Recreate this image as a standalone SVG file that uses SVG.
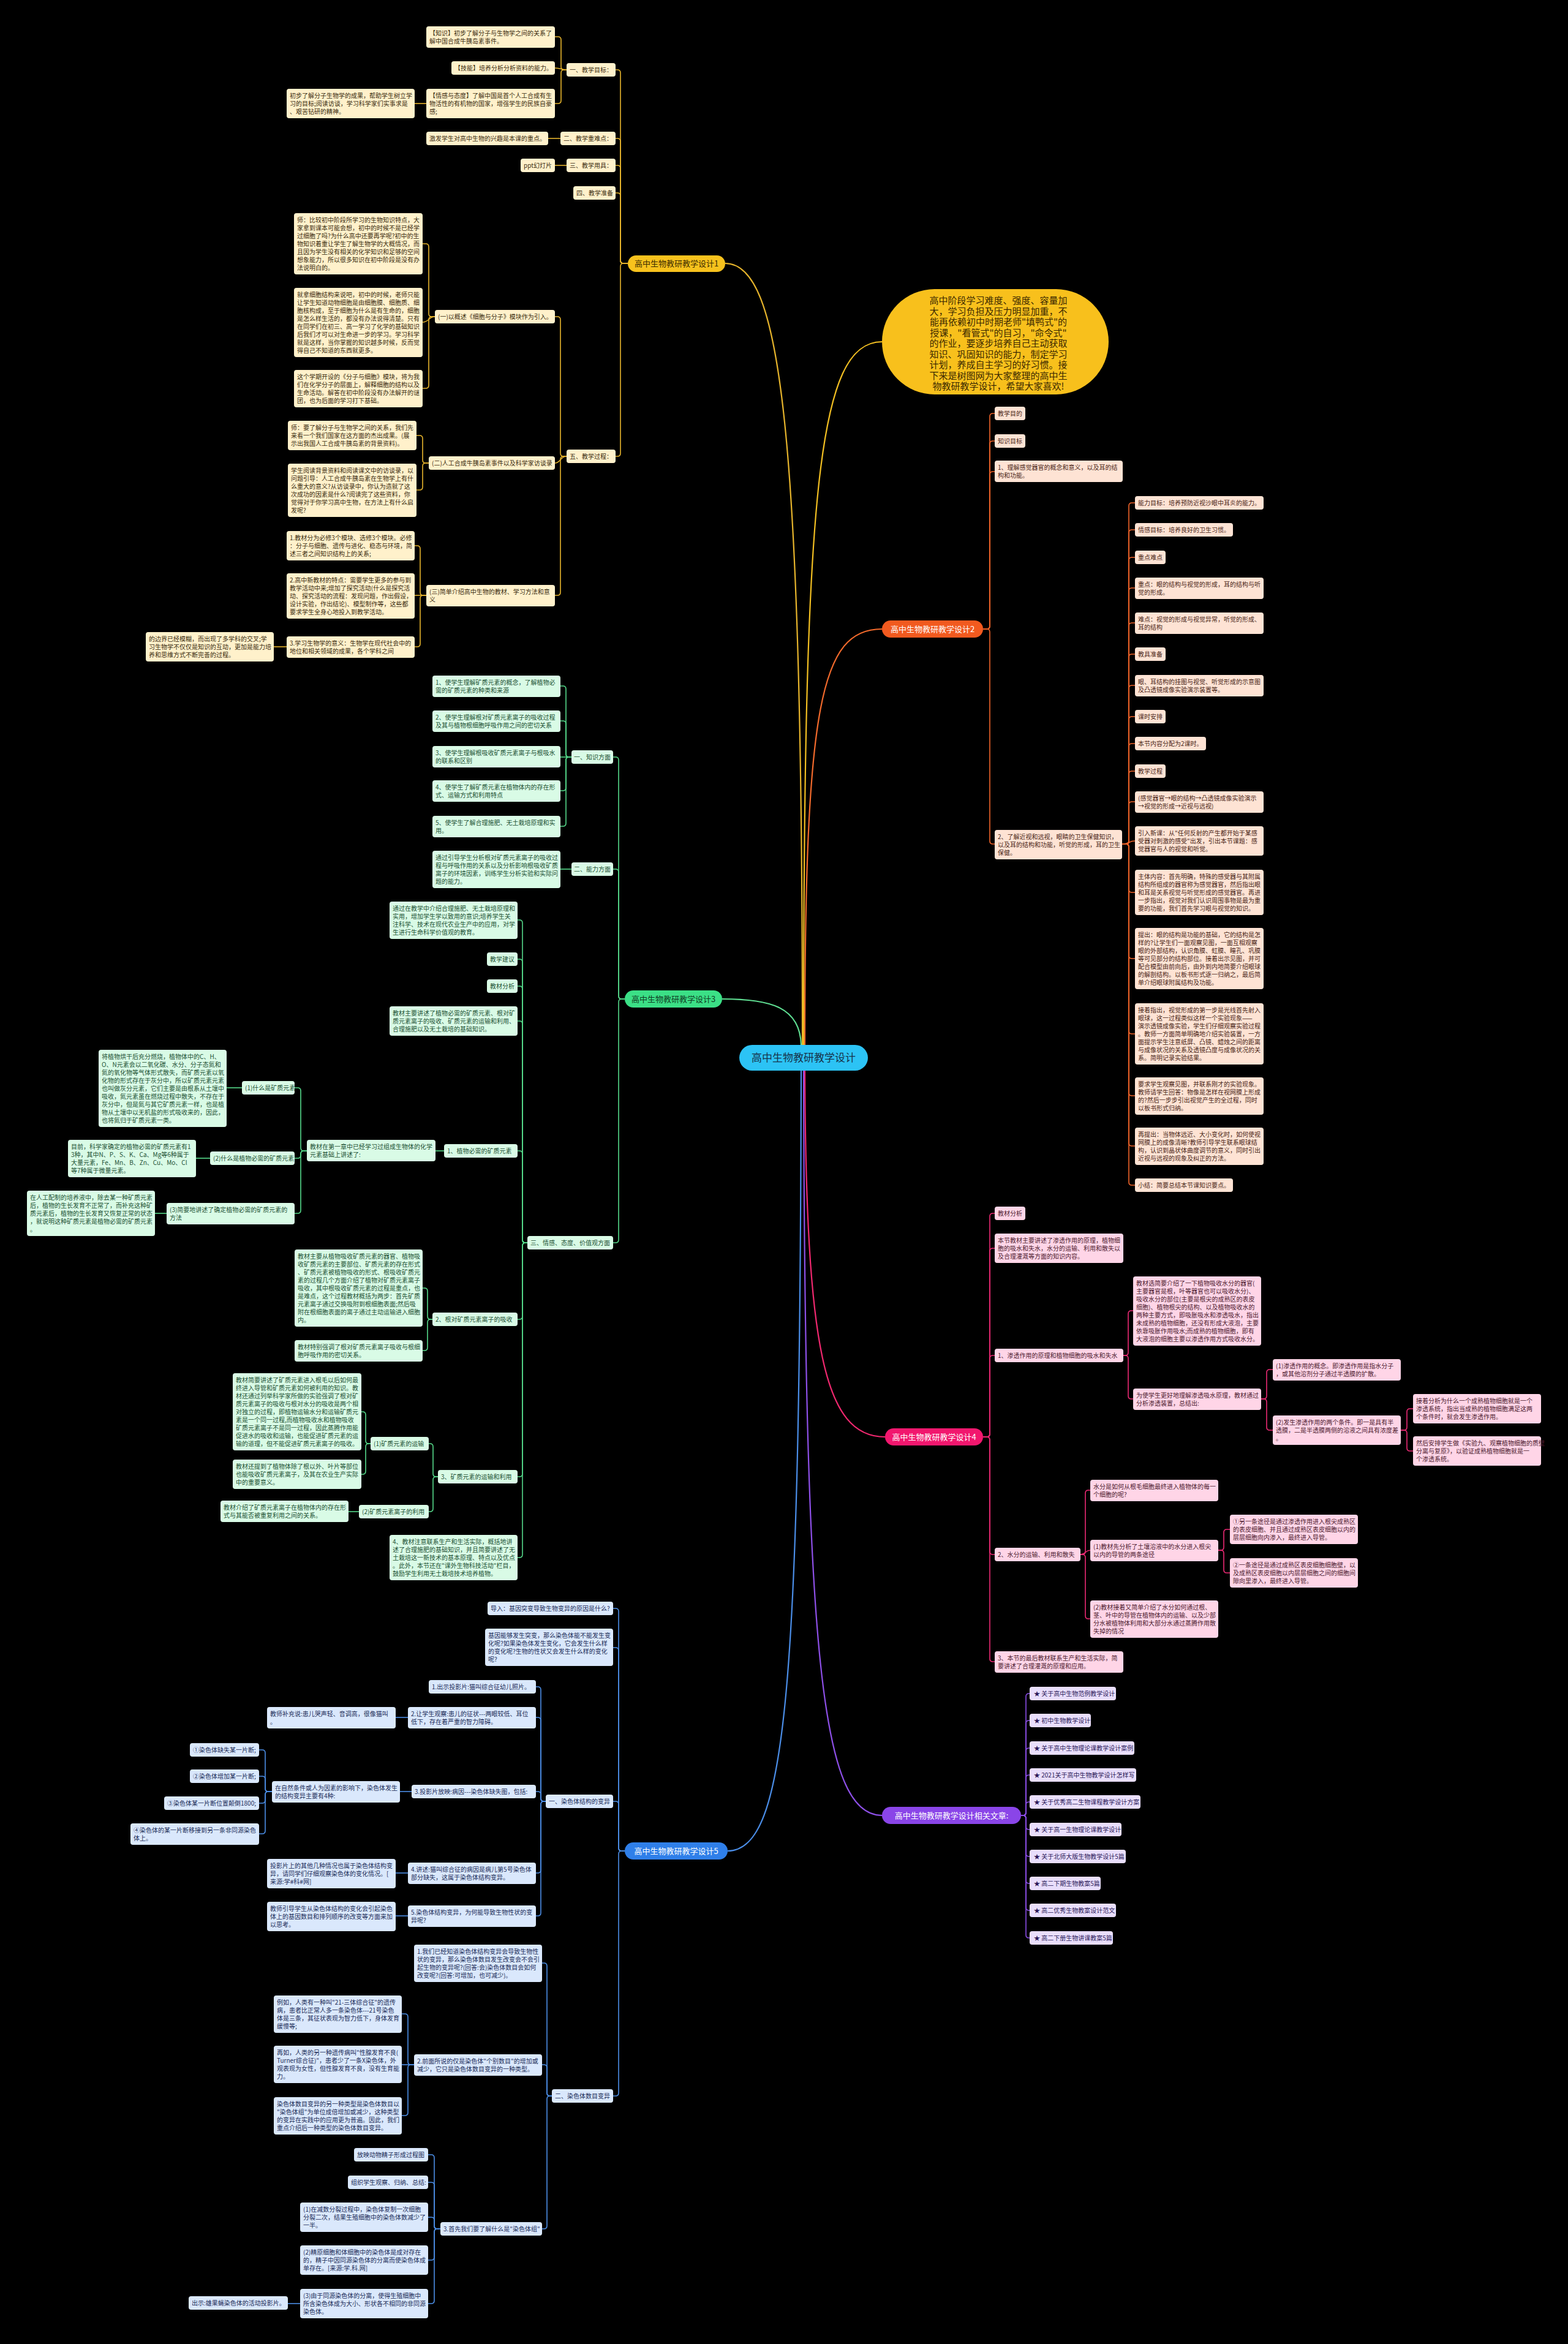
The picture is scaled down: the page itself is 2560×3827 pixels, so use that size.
<svg xmlns="http://www.w3.org/2000/svg" width="2560" height="3827" viewBox="0 0 2560 3827">
<style>
text{font-family:"Noto Sans CJK SC","Noto Sans",sans-serif;font-size:10px}
.c1 rect{fill:#FFF1CB}.c1 text{fill:#3a2c0e}
.c2 rect{fill:#FEE3D4}.c2 text{fill:#4a2616}
.c3 rect{fill:#D9FBE6}.c3 text{fill:#1c5034}
.c4 rect{fill:#FFD5E7}.c4 text{fill:#4d1a30}
.c5 rect{fill:#DAE8FC}.c5 text{fill:#1a2c58}
.c6 rect{fill:#E9DEFC}.c6 text{fill:#2c1858}
.pill text{font-size:13px;text-anchor:middle}
#connectors path{fill:none;stroke-width:1.6}
#connectors .m path{stroke-width:2.2}
.k1 path{stroke:#E6B42C}.k2 path{stroke:#F0642A}.k3 path{stroke:#55D98A}.k4 path{stroke:#EC2A74}.k5 path{stroke:#4C8EE6}.k6 path{stroke:#8B4EE6}
</style>
<rect width="2560" height="3827" fill="#000"/>
<g id="connectors">
<g class="m">
<path stroke="#E6B42C" d="M1310 1706 C1310 700 1275 430 1184 430"/>
<path stroke="#F2BF22" d="M1312 1706 C1312 800 1335 558 1440 558"/>
<path stroke="#F26A2C" d="M1314 1706 C1314 1150 1340 1027 1440 1027"/>
<path stroke="#5FDE92" d="M1308 1706 C1306 1645 1260 1631 1179 1631"/>
<path stroke="#F0286F" d="M1314 1748 C1316 2200 1345 2346 1445 2346"/>
<path stroke="#8E50E8" d="M1312 1748 C1314 2700 1340 2964 1440 2964"/>
<path stroke="#4B8EE8" d="M1308 1748 C1306 2750 1285 3022 1188 3022"/>
</g>
<g class="k1">
<path d="M1025 430 H1018 Q1013 430 1013 425 V119 Q1013 114 1008 114 H1005"/>
<path d="M1025 430 H1018 Q1013 430 1013 425 V231 Q1013 226 1008 226 H1005"/>
<path d="M1025 430 H1018 Q1013 430 1013 425 V275 Q1013 270 1008 270 H1005"/>
<path d="M1025 430 H1018 Q1013 430 1013 425 V320 Q1013 315 1008 315 H1005"/>
<path d="M1025 430 H1018 Q1013 430 1013 435 V740 Q1013 745 1008 745 H1005"/>
<path d="M925 114 H921 Q916 114 916 109 V65 Q916 60 911 60 H906"/>
<path d="M925 114 C916 114 916 111 906 111"/>
<path d="M925 114 H921 Q916 114 916 119 V164 Q916 169 911 169 H906"/>
<path d="M696 169 H677"/>
<path d="M915 226 H895"/>
<path d="M925 270 H906"/>
<path d="M925 745 H920 Q915 745 915 740 V522 Q915 517 910 517 H906"/>
<path d="M925 745 C915 745 915 756 906 756"/>
<path d="M925 745 H920 Q915 745 915 750 V967 Q915 972 910 972 H906"/>
<path d="M710 517 H705 Q700 517 700 512 V403 Q700 398 695 398 H690"/>
<path d="M710 517 C700 517 700 526 690 526"/>
<path d="M710 517 H705 Q700 517 700 522 V629 Q700 634 695 634 H690"/>
<path d="M700 756 H695 Q690 756 690 751 V716 Q690 711 685 711 H680"/>
<path d="M700 756 H695 Q690 756 690 761 V795 Q690 800 685 800 H680"/>
<path d="M696 972 H691 Q686 972 686 967 V896 Q686 891 681 891 H677"/>
<path d="M696 972 H677"/>
<path d="M696 972 H691 Q686 972 686 977 V1051 Q686 1056 681 1056 H677"/>
<path d="M468 1056 H447"/>
</g>
<g class="k2">
<path d="M1605 1027 H1611 Q1616 1027 1616 1022 V680 Q1616 675 1621 675 H1624"/>
<path d="M1605 1027 H1611 Q1616 1027 1616 1022 V725 Q1616 720 1621 720 H1624"/>
<path d="M1605 1027 H1611 Q1616 1027 1616 1022 V775 Q1616 770 1621 770 H1624"/>
<path d="M1605 1027 H1611 Q1616 1027 1616 1032 V1373 Q1616 1378 1621 1378 H1624"/>
<path d="M1832 1378 H1838 Q1843 1378 1843 1373 V826 Q1843 821 1848 821 H1853"/>
<path d="M1832 1378 H1838 Q1843 1378 1843 1373 V870 Q1843 865 1848 865 H1853"/>
<path d="M1832 1378 H1838 Q1843 1378 1843 1373 V915 Q1843 910 1848 910 H1853"/>
<path d="M1832 1378 H1838 Q1843 1378 1843 1373 V965 Q1843 960 1848 960 H1853"/>
<path d="M1832 1378 H1838 Q1843 1378 1843 1373 V1022 Q1843 1017 1848 1017 H1853"/>
<path d="M1832 1378 H1838 Q1843 1378 1843 1373 V1073 Q1843 1068 1848 1068 H1853"/>
<path d="M1832 1378 H1838 Q1843 1378 1843 1373 V1124 Q1843 1119 1848 1119 H1853"/>
<path d="M1832 1378 H1838 Q1843 1378 1843 1373 V1175 Q1843 1170 1848 1170 H1853"/>
<path d="M1832 1378 H1838 Q1843 1378 1843 1373 V1219 Q1843 1214 1848 1214 H1853"/>
<path d="M1832 1378 H1838 Q1843 1378 1843 1373 V1264 Q1843 1259 1848 1259 H1853"/>
<path d="M1832 1378 H1838 Q1843 1378 1843 1373 V1314 Q1843 1309 1848 1309 H1853"/>
<path d="M1832 1378 C1843 1378 1843 1373 1853 1373"/>
<path d="M1832 1378 H1838 Q1843 1378 1843 1383 V1452 Q1843 1457 1848 1457 H1853"/>
<path d="M1832 1378 H1838 Q1843 1378 1843 1383 V1560 Q1843 1565 1848 1565 H1853"/>
<path d="M1832 1378 H1838 Q1843 1378 1843 1383 V1683 Q1843 1688 1848 1688 H1853"/>
<path d="M1832 1378 H1838 Q1843 1378 1843 1383 V1784 Q1843 1789 1848 1789 H1853"/>
<path d="M1832 1378 H1838 Q1843 1378 1843 1383 V1866 Q1843 1871 1848 1871 H1853"/>
<path d="M1832 1378 H1838 Q1843 1378 1843 1383 V1930 Q1843 1935 1848 1935 H1853"/>
</g>
<g class="k3">
<path d="M1020 1631 H1015 Q1010 1631 1010 1626 V1241 Q1010 1236 1005 1236 H1001"/>
<path d="M1020 1631 H1015 Q1010 1631 1010 1626 V1424 Q1010 1419 1005 1419 H1001"/>
<path d="M1020 1631 H1015 Q1010 1631 1010 1636 V2024 Q1010 2029 1005 2029 H1001"/>
<path d="M933 1236 H929 Q924 1236 924 1231 V1125 Q924 1120 919 1120 H915"/>
<path d="M933 1236 H929 Q924 1236 924 1231 V1182 Q924 1177 919 1177 H915"/>
<path d="M933 1236 H915"/>
<path d="M933 1236 H929 Q924 1236 924 1241 V1286 Q924 1291 919 1291 H915"/>
<path d="M933 1236 H929 Q924 1236 924 1241 V1344 Q924 1349 919 1349 H915"/>
<path d="M933 1419 H915"/>
<path d="M861 2029 H858 Q853 2029 853 2024 V1507 Q853 1502 848 1502 H845"/>
<path d="M861 2029 H858 Q853 2029 853 2024 V1571 Q853 1566 848 1566 H845"/>
<path d="M861 2029 H858 Q853 2029 853 2024 V1615 Q853 1610 848 1610 H845"/>
<path d="M861 2029 H858 Q853 2029 853 2024 V1672 Q853 1667 848 1667 H845"/>
<path d="M861 2029 H858 Q853 2029 853 2024 V1884 Q853 1879 848 1879 H845"/>
<path d="M861 2029 H858 Q853 2029 853 2034 V2149 Q853 2154 848 2154 H845"/>
<path d="M861 2029 H858 Q853 2029 853 2034 V2406 Q853 2411 848 2411 H845"/>
<path d="M861 2029 H858 Q853 2029 853 2034 V2538 Q853 2543 848 2543 H845"/>
<path d="M725 1879 H711"/>
<path d="M501 1879 H496 Q491 1879 491 1874 V1781 Q491 1776 486 1776 H481"/>
<path d="M501 1879 H496 Q491 1879 491 1884 V1886 Q491 1891 486 1891 H481"/>
<path d="M501 1879 H496 Q491 1879 491 1884 V1976 Q491 1981 486 1981 H481"/>
<path d="M395 1776 H370"/>
<path d="M343 1891 H320"/>
<path d="M272 1981 H253"/>
<path d="M706 2154 H703 Q698 2154 698 2149 V2108 Q698 2103 693 2103 H690"/>
<path d="M706 2154 H703 Q698 2154 698 2159 V2200 Q698 2205 693 2205 H690"/>
<path d="M715 2411 H712 Q707 2411 707 2406 V2362 Q707 2357 702 2357 H700"/>
<path d="M715 2411 H712 Q707 2411 707 2416 V2463 Q707 2468 702 2468 H700"/>
<path d="M605 2357 H602 Q597 2357 597 2352 V2310 Q597 2305 592 2305 H590"/>
<path d="M605 2357 H602 Q597 2357 597 2362 V2402 Q597 2407 592 2407 H590"/>
<path d="M586 2468 H569"/>
</g>
<g class="k4">
<path d="M1605 2346 H1611 Q1616 2346 1616 2341 V1986 Q1616 1981 1621 1981 H1624"/>
<path d="M1605 2346 H1611 Q1616 2346 1616 2341 V2043 Q1616 2038 1621 2038 H1624"/>
<path d="M1605 2346 H1611 Q1616 2346 1616 2341 V2218 Q1616 2213 1621 2213 H1624"/>
<path d="M1605 2346 H1611 Q1616 2346 1616 2351 V2533 Q1616 2538 1621 2538 H1624"/>
<path d="M1605 2346 H1611 Q1616 2346 1616 2351 V2708 Q1616 2713 1621 2713 H1624"/>
<path d="M1834 2213 H1837 Q1842 2213 1842 2208 V2145 Q1842 2140 1847 2140 H1850"/>
<path d="M1834 2213 H1837 Q1842 2213 1842 2218 V2279 Q1842 2284 1847 2284 H1850"/>
<path d="M2059 2284 H2063 Q2068 2284 2068 2279 V2241 Q2068 2236 2073 2236 H2078"/>
<path d="M2059 2284 H2063 Q2068 2284 2068 2289 V2330 Q2068 2335 2073 2335 H2078"/>
<path d="M2287 2335 H2292 Q2297 2335 2297 2330 V2305 Q2297 2300 2302 2300 H2307"/>
<path d="M2287 2335 H2292 Q2297 2335 2297 2340 V2364 Q2297 2369 2302 2369 H2307"/>
<path d="M1764 2538 H1767 Q1772 2538 1772 2533 V2438 Q1772 2433 1777 2433 H1780"/>
<path d="M1764 2538 C1772 2538 1772 2531 1780 2531"/>
<path d="M1764 2538 H1767 Q1772 2538 1772 2543 V2638 Q1772 2643 1777 2643 H1780"/>
<path d="M1989 2531 H1993 Q1998 2531 1998 2526 V2502 Q1998 2497 2003 2497 H2008"/>
<path d="M1989 2531 H1993 Q1998 2531 1998 2536 V2563 Q1998 2568 2003 2568 H2008"/>
</g>
<g class="k6">
<path d="M1667 2964 H1670 Q1675 2964 1675 2959 V2770 Q1675 2765 1680 2765 H1681"/>
<path d="M1667 2964 H1670 Q1675 2964 1675 2959 V2814 Q1675 2809 1680 2809 H1681"/>
<path d="M1667 2964 H1670 Q1675 2964 1675 2959 V2859 Q1675 2854 1680 2854 H1681"/>
<path d="M1667 2964 H1670 Q1675 2964 1675 2959 V2903 Q1675 2898 1680 2898 H1681"/>
<path d="M1667 2964 H1670 Q1675 2964 1675 2959 V2947 Q1675 2942 1680 2942 H1681"/>
<path d="M1667 2964 H1670 Q1675 2964 1675 2969 V2982 Q1675 2987 1680 2987 H1681"/>
<path d="M1667 2964 H1670 Q1675 2964 1675 2969 V3026 Q1675 3031 1680 3031 H1681"/>
<path d="M1667 2964 H1670 Q1675 2964 1675 2969 V3070 Q1675 3075 1680 3075 H1681"/>
<path d="M1667 2964 H1670 Q1675 2964 1675 2969 V3114 Q1675 3119 1680 3119 H1681"/>
<path d="M1667 2964 H1670 Q1675 2964 1675 2969 V3159 Q1675 3164 1680 3164 H1681"/>
</g>
<g class="k5">
<path d="M1020 3022 H1015 Q1010 3022 1010 3017 V2631 Q1010 2626 1005 2626 H1001"/>
<path d="M1020 3022 H1015 Q1010 3022 1010 3017 V2695 Q1010 2690 1005 2690 H1001"/>
<path d="M1020 3022 H1015 Q1010 3022 1010 3017 V2946 Q1010 2941 1005 2941 H1001"/>
<path d="M1020 3022 H1015 Q1010 3022 1010 3027 V3417 Q1010 3422 1005 3422 H1001"/>
<path d="M891 2941 H888 Q883 2941 883 2936 V2759 Q883 2754 878 2754 H875"/>
<path d="M891 2941 H888 Q883 2941 883 2936 V2809 Q883 2804 878 2804 H875"/>
<path d="M891 2941 H888 Q883 2941 883 2936 V2930 Q883 2925 878 2925 H875"/>
<path d="M891 2941 H888 Q883 2941 883 2946 V3053 Q883 3058 878 3058 H875"/>
<path d="M891 2941 H888 Q883 2941 883 2946 V3123 Q883 3128 878 3128 H875"/>
<path d="M666 2804 H646"/>
<path d="M672 2925 H653"/>
<path d="M444 2925 H438 Q433 2925 433 2920 V2862 Q433 2857 428 2857 H423"/>
<path d="M444 2925 H438 Q433 2925 433 2920 V2905 Q433 2900 428 2900 H423"/>
<path d="M444 2925 H438 Q433 2925 433 2930 V2939 Q433 2944 428 2944 H423"/>
<path d="M444 2925 H438 Q433 2925 433 2930 V2989 Q433 2994 428 2994 H423"/>
<path d="M666 3058 H646"/>
<path d="M666 3128 H646"/>
<path d="M901 3422 H898 Q893 3422 893 3417 V3210 Q893 3205 888 3205 H885"/>
<path d="M901 3422 H898 Q893 3422 893 3417 V3376 Q893 3371 888 3371 H885"/>
<path d="M901 3422 H898 Q893 3422 893 3427 V3634 Q893 3639 888 3639 H885"/>
<path d="M676 3371 H671 Q666 3371 666 3366 V3293 Q666 3288 661 3288 H656"/>
<path d="M676 3371 H656"/>
<path d="M676 3371 H671 Q666 3371 666 3376 V3449 Q666 3454 661 3454 H656"/>
<path d="M719 3639 H714 Q709 3639 709 3634 V3523 Q709 3518 704 3518 H699"/>
<path d="M719 3639 H714 Q709 3639 709 3634 V3568 Q709 3563 704 3563 H699"/>
<path d="M719 3639 H714 Q709 3639 709 3634 V3625 Q709 3620 704 3620 H699"/>
<path d="M719 3639 H714 Q709 3639 709 3644 V3685 Q709 3690 704 3690 H699"/>
<path d="M719 3639 H714 Q709 3639 709 3644 V3756 Q709 3761 704 3761 H699"/>
<path d="M490 3761 H470"/>
</g>
</g>

<g id="root" class="pill"><rect x="1207" y="1706" width="210" height="42" rx="21" fill="#2CC3F5"/><text x="1312" y="1733" style="font-size:17px" fill="#17324a">高中生物教研教学设计</text></g>

<g id="intro"><rect x="1440" y="472" width="370" height="172" rx="86" fill="#F8C01C"/>
<text x="1630" y="496" text-anchor="middle" fill="#3a2800" style="font-size:15px">高中阶段学习难度、强度、容量加<tspan x="1630" dy="17.5">大，学习负担及压力明显加重，不</tspan><tspan x="1630" dy="17.5">能再依赖初中时期老师"填鸭式"的</tspan><tspan x="1630" dy="17.5">授课，"看管式"的自习，"命令式"</tspan><tspan x="1630" dy="17.5">的作业，要逐步培养自己主动获取</tspan><tspan x="1630" dy="17.5">知识、巩固知识的能力，制定学习</tspan><tspan x="1630" dy="17.5">计划，养成自主学习的好习惯。接</tspan><tspan x="1630" dy="17.5">下来是树图网为大家整理的高中生</tspan><tspan x="1630" dy="17.5">物教研教学设计，希望大家喜欢!</tspan></text></g>

<!-- Branch 1 -->
<g id="b1" class="pill"><rect x="1025" y="417" width="159" height="27" rx="13.5" fill="#F7C21D"/><text x="1104.5" y="435" fill="#3a2a00">高中生物教研教学设计1</text></g>
<g id="b1n1" class="c1"><rect x="925" y="103" width="80" height="22" rx="4"/><text x="930" y="118">一、教学目标：</text></g>
<g id="b1n2" class="c1"><rect x="696" y="43" width="210" height="35" rx="4"/><text x="701" y="58">【知识】初步了解分子与生物学之间的关系了<tspan x="701" dy="13">解中国合成牛胰岛素事件。</tspan></text></g>
<g id="b1n3" class="c1"><rect x="737" y="100" width="169" height="22" rx="4"/><text x="742" y="115">【技能】培养分析分析资料的能力。</text></g>
<g id="b1n4" class="c1"><rect x="696" y="145" width="210" height="48" rx="4"/><text x="701" y="160">【情感与态度】了解中国是首个人工合成有生<tspan x="701" dy="13">物活性的有机物的国家，增强学生的民族自豪</tspan><tspan x="701" dy="13">感;</tspan></text></g>
<g id="b1n5" class="c1"><rect x="468" y="145" width="209" height="48" rx="4"/><text x="473" y="160">初步了解分子生物学的成果，帮助学生树立学<tspan x="473" dy="13">习的目标;阅读访谈，学习科学家们实事求是</tspan><tspan x="473" dy="13">、艰苦钻研的精神。</tspan></text></g>
<g id="b1n6" class="c1"><rect x="915" y="215" width="90" height="22" rx="4"/><text x="920" y="230">二、教学重难点：</text></g>
<g id="b1n7" class="c1"><rect x="696" y="215" width="199" height="22" rx="4"/><text x="701" y="230">激发学生对高中生物的兴趣是本课的重点。</text></g>
<g id="b1n8" class="c1"><rect x="925" y="259" width="80" height="22" rx="4"/><text x="930" y="274">三、教学用具：</text></g>
<g id="b1n9" class="c1"><rect x="850" y="259" width="56" height="22" rx="4"/><text x="855" y="274">ppt幻灯片</text></g>
<g id="b1n10" class="c1"><rect x="936" y="304" width="69" height="22" rx="4"/><text x="941" y="319">四、教学准备</text></g>
<g id="b1n11" class="c1"><rect x="925" y="734" width="80" height="22" rx="4"/><text x="930" y="749">五、教学过程：</text></g>
<g id="b1n12" class="c1"><rect x="710" y="506" width="196" height="22" rx="4"/><text x="715" y="521">(一)以概述《细胞与分子》模块作为引入。</text></g>
<g id="b1n13" class="c1"><rect x="480" y="348" width="210" height="100" rx="4"/><text x="485" y="363">师：比较初中阶段所学习的生物知识特点，大<tspan x="485" dy="13">家拿到课本可能会想，初中的时候不是已经学</tspan><tspan x="485" dy="13">过细胞了吗?为什么高中还要再学呢?初中的生</tspan><tspan x="485" dy="13">物知识着重让学生了解生物学的大概情况，而</tspan><tspan x="485" dy="13">且因为学生没有相关的化学知识和足够的空间</tspan><tspan x="485" dy="13">想象能力，所以很多知识在初中阶段是没有办</tspan><tspan x="485" dy="13">法说明白的。</tspan></text></g>
<g id="b1n14" class="c1"><rect x="480" y="470" width="210" height="113" rx="4"/><text x="485" y="485">就拿细胞结构来说吧，初中的时候，老师只能<tspan x="485" dy="13">让学生知道动物细胞是由细胞膜、细胞质、细</tspan><tspan x="485" dy="13">胞核构成，至于细胞为什么是有生命的，细胞</tspan><tspan x="485" dy="13">是怎么样生活的，都没有办法说得清楚。只有</tspan><tspan x="485" dy="13">在同学们在初三、高一学习了化学的基础知识</tspan><tspan x="485" dy="13">后我们才可以对生命进一步的学习。学习科学</tspan><tspan x="485" dy="13">就是这样，当你掌握的知识越多时候，反而觉</tspan><tspan x="485" dy="13">得自己不知道的东西就更多。</tspan></text></g>
<g id="b1n15" class="c1"><rect x="480" y="604" width="210" height="61" rx="4"/><text x="485" y="619">这个学期开设的《分子与细胞》模块，将为我<tspan x="485" dy="13">们在化学分子的层面上，解释细胞的结构以及</tspan><tspan x="485" dy="13">生命活动。解答在初中阶段没有办法解开的谜</tspan><tspan x="485" dy="13">团，也为后面的学习打下基础。</tspan></text></g>
<g id="b1n16" class="c1"><rect x="700" y="745" width="206" height="22" rx="4"/><text x="705" y="760">(二)人工合成牛胰岛素事件以及科学家访谈录</text></g>
<g id="b1n17" class="c1"><rect x="470" y="687" width="210" height="48" rx="4"/><text x="475" y="702">师：要了解分子与生物学之间的关系，我们先<tspan x="475" dy="13">来看一个我们国家在这方面的杰出成果。(展</tspan><tspan x="475" dy="13">示出我国人工合成牛胰岛素的背景资料)。</tspan></text></g>
<g id="b1n18" class="c1"><rect x="470" y="757" width="210" height="87" rx="4"/><text x="475" y="772">学生阅读背景资料和阅读课文中的访谈录，以<tspan x="475" dy="13">问题引导：人工合成牛胰岛素在生物学上有什</tspan><tspan x="475" dy="13">么重大的意义?从访谈录中，你认为造就了这</tspan><tspan x="475" dy="13">次成功的因素是什么?阅读完了这些资料，你</tspan><tspan x="475" dy="13">觉得对于你学习高中生物，在方法上有什么启</tspan><tspan x="475" dy="13">发呢?</tspan></text></g>
<g id="b1n19" class="c1"><rect x="696" y="955" width="210" height="35" rx="4"/><text x="701" y="970">(三)简单介绍高中生物的教材、学习方法和意<tspan x="701" dy="13">义</tspan></text></g>
<g id="b1n20" class="c1"><rect x="468" y="867" width="209" height="48" rx="4"/><text x="473" y="882">1.教材分为必修3个模块、选修3个模块。必修<tspan x="473" dy="13">：分子与细胞、遗传与进化、稳态与环境，简</tspan><tspan x="473" dy="13">述三者之间知识结构上的关系;</tspan></text></g>
<g id="b1n21" class="c1"><rect x="468" y="936" width="209" height="74" rx="4"/><text x="473" y="951">2.高中新教材的特点：需要学生更多的参与到<tspan x="473" dy="13">教学活动中来;增加了探究活动(什么是探究活</tspan><tspan x="473" dy="13">动、探究活动的流程：发现问题，作出假设，</tspan><tspan x="473" dy="13">设计实验，作出结论)、模型制作等，这些都</tspan><tspan x="473" dy="13">要求学生全身心地投入到教学活动。</tspan></text></g>
<g id="b1n22" class="c1"><rect x="468" y="1039" width="209" height="35" rx="4"/><text x="473" y="1054">3.学习生物学的意义：生物学在现代社会中的<tspan x="473" dy="13">地位和相关领域的成果，各个学科之间</tspan></text></g>
<g id="b1n23" class="c1"><rect x="238" y="1032" width="209" height="48" rx="4"/><text x="243" y="1047">的边界已经模糊，而出现了多学科的交叉;学<tspan x="243" dy="13">习生物学不仅仅是知识的互动，更加是能力培</tspan><tspan x="243" dy="13">养和思维方式不断完善的过程。</tspan></text></g>

<!-- Branch 2 -->
<g id="b2" class="pill"><rect x="1440" y="1013" width="165" height="28" rx="14" fill="#F25A1F"/><text x="1522.5" y="1031.5" fill="#fff">高中生物教研教学设计2</text></g>
<g id="b2n1" class="c2"><rect x="1624" y="664" width="50" height="22" rx="4"/><text x="1629" y="679">教学目的</text></g>
<g id="b2n2" class="c2"><rect x="1624" y="709" width="50" height="22" rx="4"/><text x="1629" y="724">知识目标</text></g>
<g id="b2n3" class="c2"><rect x="1624" y="752" width="209" height="35" rx="4"/><text x="1629" y="767">1、理解感觉器官的概念和意义，以及耳的结<tspan x="1629" dy="13">构和功能。</tspan></text></g>
<g id="b2n4" class="c2"><rect x="1624" y="1355" width="208" height="48" rx="4"/><text x="1629" y="1370">2、了解近视和远视，眼睛的卫生保健知识，<tspan x="1629" dy="13">以及耳的结构和功能，听觉的形成，耳的卫生</tspan><tspan x="1629" dy="13">保健。</tspan></text></g>
<g id="b2n5" class="c2"><rect x="1853" y="810" width="210" height="22" rx="4"/><text x="1858" y="825">能力目标：培养预防近视沙眼中耳炎的能力。</text></g>
<g id="b2n6" class="c2"><rect x="1853" y="854" width="160" height="22" rx="4"/><text x="1858" y="869">情感目标：培养良好的卫生习惯。</text></g>
<g id="b2n7" class="c2"><rect x="1853" y="899" width="50" height="22" rx="4"/><text x="1858" y="914">重点难点</text></g>
<g id="b2n8" class="c2"><rect x="1853" y="943" width="210" height="35" rx="4"/><text x="1858" y="958">重点：眼的结构与视觉的形成，耳的结构与听<tspan x="1858" dy="13">觉的形成。</tspan></text></g>
<g id="b2n9" class="c2"><rect x="1853" y="1000" width="210" height="35" rx="4"/><text x="1858" y="1015">难点：视觉的形成与视觉异常，听觉的形成、<tspan x="1858" dy="13">耳的结构</tspan></text></g>
<g id="b2n10" class="c2"><rect x="1853" y="1057" width="50" height="22" rx="4"/><text x="1858" y="1072">教具准备</text></g>
<g id="b2n11" class="c2"><rect x="1853" y="1102" width="210" height="35" rx="4"/><text x="1858" y="1117">眼、耳结构的挂图与视觉、听觉形成的示意图<tspan x="1858" dy="13">及凸透镜成像实验演示装置等。</tspan></text></g>
<g id="b2n12" class="c2"><rect x="1853" y="1159" width="50" height="22" rx="4"/><text x="1858" y="1174">课时安排</text></g>
<g id="b2n13" class="c2"><rect x="1853" y="1203" width="116" height="22" rx="4"/><text x="1858" y="1218">本节内容分配为2课时。</text></g>
<g id="b2n14" class="c2"><rect x="1853" y="1248" width="50" height="22" rx="4"/><text x="1858" y="1263">教学过程</text></g>
<g id="b2n15" class="c2"><rect x="1853" y="1292" width="210" height="35" rx="4"/><text x="1858" y="1307">(感觉器官→眼的结构→凸透镜成像实验演示<tspan x="1858" dy="13">→视觉的形成→近视与远视)</tspan></text></g>
<g id="b2n16" class="c2"><rect x="1853" y="1349" width="210" height="48" rx="4"/><text x="1858" y="1364">引入新课：从"任何反射的产生都开始于某感<tspan x="1858" dy="13">受器对刺激的感受"出发，引出本节课题：感</tspan><tspan x="1858" dy="13">觉器官与人的视觉和听觉。</tspan></text></g>
<g id="b2n17" class="c2"><rect x="1853" y="1420" width="210" height="74" rx="4"/><text x="1858" y="1435">主体内容：首先明确，特殊的感受器与其附属<tspan x="1858" dy="13">结构所组成的器官称为感觉器官，然后指出眼</tspan><tspan x="1858" dy="13">和耳是关系视觉与听觉形成的感觉器官。再进</tspan><tspan x="1858" dy="13">一步指出，视觉对我们认识周围事物是最为重</tspan><tspan x="1858" dy="13">要的功能，我们首先学习眼与视觉的知识。</tspan></text></g>
<g id="b2n18" class="c2"><rect x="1853" y="1515" width="210" height="100" rx="4"/><text x="1858" y="1530">提出：眼的结构是功能的基础，它的结构是怎<tspan x="1858" dy="13">样的?让学生们一面观察见图，一面互相观察</tspan><tspan x="1858" dy="13">眼的外部结构，认识角膜、虹膜、瞳孔、巩膜</tspan><tspan x="1858" dy="13">等可见部分的结构部位。接着出示见图，并可</tspan><tspan x="1858" dy="13">配合模型由前向后，由外到内地简要介绍眼球</tspan><tspan x="1858" dy="13">的解剖结构。以板书形式逐一归纳之，最后简</tspan><tspan x="1858" dy="13">单介绍眼球附属结构及功能。</tspan></text></g>
<g id="b2n19" class="c2"><rect x="1853" y="1638" width="210" height="100" rx="4"/><text x="1858" y="1653">接着指出，视觉形成的第一步是光线首先射入<tspan x="1858" dy="13">眼球，这一过程类似这样一个实验现象——</tspan><tspan x="1858" dy="13">演示透镜成像实验，学生们仔细观察实验过程</tspan><tspan x="1858" dy="13">。教师一方面简单明确地介绍实验装置，一方</tspan><tspan x="1858" dy="13">面提示学生注意纸屏、凸镜、蜡烛之间的距离</tspan><tspan x="1858" dy="13">与成像状况的关系及透镜凸度与成像状况的关</tspan><tspan x="1858" dy="13">系。简明记录实验结果。</tspan></text></g>
<g id="b2n20" class="c2"><rect x="1853" y="1759" width="210" height="61" rx="4"/><text x="1858" y="1774">要求学生观察见图，并联系刚才的实验现象。<tspan x="1858" dy="13">教师请学生回答：物像是怎样在视网膜上形成</tspan><tspan x="1858" dy="13">的?然后一步步引出视觉产生的全过程，同时</tspan><tspan x="1858" dy="13">以板书形式归纳。</tspan></text></g>
<g id="b2n21" class="c2"><rect x="1853" y="1841" width="210" height="61" rx="4"/><text x="1858" y="1856">再提出：当物体远近、大小变化时，如何使视<tspan x="1858" dy="13">网膜上的成像清晰?教师引导学生联系眼球结</tspan><tspan x="1858" dy="13">构，认识到晶状体曲度调节的意义，同时引出</tspan><tspan x="1858" dy="13">近视与远视的现象及纠正的方法。</tspan></text></g>
<g id="b2n22" class="c2"><rect x="1853" y="1924" width="160" height="22" rx="4"/><text x="1858" y="1939">小结：简要总结本节课知识要点。</text></g>

<!-- Branch 3 -->
<g id="b3" class="pill"><rect x="1020" y="1617" width="159" height="28" rx="14" fill="#3BE086"/><text x="1099.5" y="1635.5" fill="#0f3d24">高中生物教研教学设计3</text></g>
<g id="b3n1" class="c3"><rect x="933" y="1225" width="68" height="22" rx="4"/><text x="937" y="1240">一、知识方面</text></g>
<g id="b3n2" class="c3"><rect x="706" y="1103" width="209" height="35" rx="4"/><text x="711" y="1118">1、使学生理解矿质元素的概念，了解植物必<tspan x="711" dy="13">需的矿质元素的种类和来源</tspan></text></g>
<g id="b3n3" class="c3"><rect x="706" y="1160" width="209" height="35" rx="4"/><text x="711" y="1175">2、使学生理解根对矿质元素离子的吸收过程<tspan x="711" dy="13">及其与植物根细胞呼吸作用之间的密切关系</tspan></text></g>
<g id="b3n4" class="c3"><rect x="706" y="1218" width="209" height="35" rx="4"/><text x="711" y="1233">3、使学生理解根吸收矿质元素离子与根吸水<tspan x="711" dy="13">的联系和区别</tspan></text></g>
<g id="b3n5" class="c3"><rect x="706" y="1274" width="209" height="35" rx="4"/><text x="711" y="1289">4、使学生了解矿质元素在植物体内的存在形<tspan x="711" dy="13">式、运输方式和利用特点</tspan></text></g>
<g id="b3n6" class="c3"><rect x="706" y="1332" width="209" height="35" rx="4"/><text x="711" y="1347">5、使学生了解合理施肥、无土栽培原理和实<tspan x="711" dy="13">用。</tspan></text></g>
<g id="b3n7" class="c3"><rect x="933" y="1408" width="68" height="22" rx="4"/><text x="937" y="1423">二、能力方面</text></g>
<g id="b3n8" class="c3"><rect x="706" y="1389" width="209" height="61" rx="4"/><text x="711" y="1404">通过引导学生分析根对矿质元素离子的吸收过<tspan x="711" dy="13">程与呼吸作用的关系以及分析影响根吸收矿质</tspan><tspan x="711" dy="13">离子的环境因素，训练学生分析实验和实际问</tspan><tspan x="711" dy="13">题的能力。</tspan></text></g>
<g id="b3n9" class="c3"><rect x="861" y="2018" width="140" height="22" rx="4"/><text x="866" y="2033">三、情感、态度、价值观方面</text></g>
<g id="b3n10" class="c3"><rect x="636" y="1472" width="209" height="61" rx="4"/><text x="641" y="1487">通过在教学中介绍合理施肥、无土栽培原理和<tspan x="641" dy="13">实用，增加学生学以致用的意识;培养学生关</tspan><tspan x="641" dy="13">注科学、技术在现代农业生产中的应用，对学</tspan><tspan x="641" dy="13">生进行生命科学价值观的教育。</tspan></text></g>
<g id="b3n11" class="c3"><rect x="795" y="1555" width="50" height="22" rx="4"/><text x="800" y="1570">教学建议</text></g>
<g id="b3n12" class="c3"><rect x="795" y="1599" width="50" height="22" rx="4"/><text x="800" y="1614">教材分析</text></g>
<g id="b3n13" class="c3"><rect x="636" y="1643" width="209" height="48" rx="4"/><text x="641" y="1658">教材主要讲述了植物必需的矿质元素、根对矿<tspan x="641" dy="13">质元素离子的吸收、矿质元素的运输和利用、</tspan><tspan x="641" dy="13">合理施肥以及无土栽培的基础知识。</tspan></text></g>
<g id="b3n14" class="c3"><rect x="725" y="1868" width="120" height="22" rx="4"/><text x="730" y="1883">1、植物必需的矿质元素</text></g>
<g id="b3n15" class="c3"><rect x="501" y="1861" width="210" height="35" rx="4"/><text x="506" y="1876">教材在第一章中已经学习过组成生物体的化学<tspan x="506" dy="13">元素基础上讲述了:</tspan></text></g>
<g id="b3n16" class="c3"><rect x="395" y="1765" width="86" height="22" rx="4"/><text x="400" y="1780">(1)什么是矿质元素</text></g>
<g id="b3n17" class="c3"><rect x="161" y="1714" width="209" height="126" rx="4"/><text x="166" y="1729">将植物烘干后充分燃烧，植物体中的C、H、<tspan x="166" dy="13">O、N元素会以二氧化碳、水分、分子态氮和</tspan><tspan x="166" dy="13">氮的氧化物等气体形式散失，而矿质元素以氧</tspan><tspan x="166" dy="13">化物的形式存在于灰分中，所以矿质元素元素</tspan><tspan x="166" dy="13">也叫做灰分元素，它们主要是由根系从土壤中</tspan><tspan x="166" dy="13">吸收，氮元素虽在燃烧过程中散失，不存在于</tspan><tspan x="166" dy="13">灰分中，但是氮与其它矿质元素一样，也是植</tspan><tspan x="166" dy="13">物从土壤中以无机盐的形式吸收来的，因此，</tspan><tspan x="166" dy="13">也将氮归于矿质元素一类。</tspan></text></g>
<g id="b3n18" class="c3"><rect x="343" y="1880" width="138" height="22" rx="4"/><text x="348" y="1895">(2)什么是植物必需的矿质元素</text></g>
<g id="b3n19" class="c3"><rect x="111" y="1861" width="209" height="61" rx="4"/><text x="116" y="1876">目前，科学家确定的植物必需的矿质元素有1<tspan x="116" dy="13">3种，其中N、P、S、K、Ca、Mg等6种属于</tspan><tspan x="116" dy="13">大量元素，Fe、Mn、B、Zn、Cu、Mo、Cl</tspan><tspan x="116" dy="13">等7种属于微量元素。</tspan></text></g>
<g id="b3n20" class="c3"><rect x="272" y="1964" width="209" height="35" rx="4"/><text x="277" y="1979">(3)简要地讲述了确定植物必需的矿质元素的<tspan x="277" dy="13">方法</tspan></text></g>
<g id="b3n21" class="c3"><rect x="44" y="1944" width="209" height="74" rx="4"/><text x="49" y="1959">在人工配制的培养液中，除去某一种矿质元素<tspan x="49" dy="13">后，植物的生长发育不正常了，而补充这种矿</tspan><tspan x="49" dy="13">质元素后，植物的生长发育又恢复正常的状态</tspan><tspan x="49" dy="13">，就说明这种矿质元素是植物必需的矿质元素</tspan><tspan x="49" dy="13">。</tspan></text></g>
<g id="b3n22" class="c3"><rect x="706" y="2143" width="139" height="22" rx="4"/><text x="711" y="2158">2、根对矿质元素离子的吸收</text></g>
<g id="b3n23" class="c3"><rect x="481" y="2040" width="209" height="126" rx="4"/><text x="486" y="2055">教材主要从植物吸收矿质元素的器官、植物吸<tspan x="486" dy="13">收矿质元素的主要部位、矿质元素的存在形式</tspan><tspan x="486" dy="13">、矿质元素被植物吸收的形式、根吸收矿质元</tspan><tspan x="486" dy="13">素的过程几个方面介绍了植物对矿质元素离子</tspan><tspan x="486" dy="13">吸收，其中根吸收矿质元素的过程是重点，也</tspan><tspan x="486" dy="13">是难点，这个过程教材概括为两步：首先矿质</tspan><tspan x="486" dy="13">元素离子通过交换吸附到根细胞表面;然后吸</tspan><tspan x="486" dy="13">附在根细胞表面的离子通过主动运输进入细胞</tspan><tspan x="486" dy="13">内。</tspan></text></g>
<g id="b3n24" class="c3"><rect x="481" y="2188" width="209" height="35" rx="4"/><text x="486" y="2203">教材特别强调了根对矿质元素离子吸收与根细<tspan x="486" dy="13">胞呼吸作用的密切关系。</tspan></text></g>
<g id="b3n25" class="c3"><rect x="715" y="2400" width="130" height="22" rx="4"/><text x="720" y="2415">3、矿质元素的运输和利用</text></g>
<g id="b3n26" class="c3"><rect x="605" y="2346" width="95" height="22" rx="4"/><text x="610" y="2361">(1)矿质元素的运输</text></g>
<g id="b3n27" class="c3"><rect x="380" y="2242" width="210" height="126" rx="4"/><text x="385" y="2257">教材简要讲述了矿质元素进入根毛以后如何最<tspan x="385" dy="13">终进入导管和矿质元素如何被利用的知识。教</tspan><tspan x="385" dy="13">材还通过列举科学家所做的实验强调了根对矿</tspan><tspan x="385" dy="13">质元素离子的吸收与根对水分的吸收是两个相</tspan><tspan x="385" dy="13">对独立的过程，即植物运输水分和运输矿质元</tspan><tspan x="385" dy="13">素是一个同一过程,而植物吸收水和植物吸收</tspan><tspan x="385" dy="13">矿质元素离子不是同一过程，因此蒸腾作用能</tspan><tspan x="385" dy="13">促进水的吸收和运输，也能促进矿质元素的运</tspan><tspan x="385" dy="13">输的道理，但不能促进矿质元素离子的吸收。</tspan></text></g>
<g id="b3n28" class="c3"><rect x="380" y="2383" width="210" height="48" rx="4"/><text x="385" y="2398">教材还提到了植物体除了根以外、叶片等部位<tspan x="385" dy="13">也能吸收矿质元素离子，及其在农业生产实际</tspan><tspan x="385" dy="13">中的重要意义。</tspan></text></g>
<g id="b3n29" class="c3"><rect x="586" y="2457" width="114" height="22" rx="4"/><text x="591" y="2472">(2)矿质元素离子的利用</text></g>
<g id="b3n30" class="c3"><rect x="360" y="2450" width="209" height="35" rx="4"/><text x="365" y="2465">教材介绍了矿质元素离子在植物体内的存在形<tspan x="365" dy="13">式与其能否被重复利用之间的关系。</tspan></text></g>
<g id="b3n31" class="c3"><rect x="636" y="2506" width="209" height="74" rx="4"/><text x="641" y="2521">4、教材注意联系生产和生活实际，概括地讲<tspan x="641" dy="13">述了合理施肥的基础知识，并且简要讲述了无</tspan><tspan x="641" dy="13">土栽培这一新技术的基本原理、特点以及优点</tspan><tspan x="641" dy="13">。此外，本节还在"课外生物科技活动"栏目，</tspan><tspan x="641" dy="13">鼓励学生利用无土栽培技术培养植物。</tspan></text></g>

<!-- Branch 4 -->
<g id="b4" class="pill"><rect x="1445" y="2332" width="160" height="28" rx="14" fill="#F2176E"/><text x="1525" y="2350.5" fill="#fff">高中生物教研教学设计4</text></g>
<g id="b4n1" class="c4"><rect x="1624" y="1970" width="50" height="22" rx="4"/><text x="1629" y="1985">教材分析</text></g>
<g id="b4n2" class="c4"><rect x="1624" y="2014" width="210" height="48" rx="4"/><text x="1629" y="2029">本节教材主要讲述了渗透作用的原理，植物细<tspan x="1629" dy="13">胞的吸水和失水，水分的运输、利用和散失以</tspan><tspan x="1629" dy="13">及合理灌溉等方面的知识内容。</tspan></text></g>
<g id="b4n3" class="c4"><rect x="1624" y="2202" width="210" height="22" rx="4"/><text x="1629" y="2217">1、渗透作用的原理和植物细胞的吸水和失水</text></g>
<g id="b4n4" class="c4"><rect x="1850" y="2084" width="209" height="113" rx="4"/><text x="1855" y="2099">教材选简要介绍了一下植物吸收水分的器官(<tspan x="1855" dy="13">主要器官是根，叶等器官也可以吸收水分)、</tspan><tspan x="1855" dy="13">吸收水分的部位(主要是根尖的成熟区的表皮</tspan><tspan x="1855" dy="13">细胞)、植物根尖的结构、以及植物吸收水的</tspan><tspan x="1855" dy="13">两种主要方式，即吸胀吸水和渗透吸水，指出</tspan><tspan x="1855" dy="13">未成熟的植物细胞，还没有形成大液泡，主要</tspan><tspan x="1855" dy="13">依靠吸胀作用吸水;而成熟的植物细胞，即有</tspan><tspan x="1855" dy="13">大液泡的细胞主要以渗透作用方式吸收水分。</tspan></text></g>
<g id="b4n5" class="c4"><rect x="1850" y="2267" width="209" height="35" rx="4"/><text x="1855" y="2282">为使学生更好地理解渗透吸水原理，教材通过<tspan x="1855" dy="13">分析渗透装置，总结出:</tspan></text></g>
<g id="b4n6" class="c4"><rect x="2078" y="2219" width="209" height="35" rx="4"/><text x="2083" y="2234">(1)渗透作用的概念。即渗透作用是指水分子<tspan x="2083" dy="13">，或其他溶剂分子通过半透膜的扩散。</tspan></text></g>
<g id="b4n7" class="c4"><rect x="2078" y="2311" width="209" height="48" rx="4"/><text x="2083" y="2326">(2)发生渗透作用的两个条件。即一是具有半<tspan x="2083" dy="13">透膜，二是半透膜两侧的溶液之间具有浓度差</tspan><tspan x="2083" dy="13">。</tspan></text></g>
<g id="b4n8" class="c4"><rect x="2307" y="2276" width="209" height="48" rx="4"/><text x="2312" y="2291">接着分析为什么一个成熟植物细胞就是一个<tspan x="2312" dy="13">渗透系统，指出当成熟的植物细胞满足这两</tspan><tspan x="2312" dy="13">个条件时，就会发生渗透作用。</tspan></text></g>
<g id="b4n9" class="c4"><rect x="2307" y="2345" width="209" height="48" rx="4"/><text x="2312" y="2360">然后安排学生做《实验九、观察植物细胞的质壁<tspan x="2312" dy="13">分离与复原》，以验证成熟植物细胞就是一</tspan><tspan x="2312" dy="13">个渗透系统。</tspan></text></g>
<g id="b4n10" class="c4"><rect x="1624" y="2527" width="140" height="22" rx="4"/><text x="1629" y="2542">2、水分的运输、利用和散失</text></g>
<g id="b4n11" class="c4"><rect x="1780" y="2416" width="209" height="35" rx="4"/><text x="1785" y="2431">水分是如何从根毛细胞最终进入植物体的每一<tspan x="1785" dy="13">个细胞的呢?</tspan></text></g>
<g id="b4n12" class="c4"><rect x="1780" y="2514" width="209" height="35" rx="4"/><text x="1785" y="2529">(1)教材先分析了土壤溶液中的水分进入根尖<tspan x="1785" dy="13">以内的导管的两条途径</tspan></text></g>
<g id="b4n13" class="c4"><rect x="2008" y="2473" width="209" height="48" rx="4"/><text x="2013" y="2488">①另一条途径是通过渗透作用进入根尖成熟区<tspan x="2013" dy="13">的表皮细胞、并且通过成熟区表皮细胞以内的</tspan><tspan x="2013" dy="13">层层细胞向内渗入，最终进入导管。</tspan></text></g>
<g id="b4n14" class="c4"><rect x="2008" y="2544" width="209" height="48" rx="4"/><text x="2013" y="2559">②一条途径是通过成熟区表皮细胞细胞壁，以<tspan x="2013" dy="13">及成熟区表皮细胞以内层层细胞之间的细胞间</tspan><tspan x="2013" dy="13">隙向里渗入，最终进入导管。</tspan></text></g>
<g id="b4n15" class="c4"><rect x="1780" y="2613" width="209" height="61" rx="4"/><text x="1785" y="2628">(2)教材接着又简单介绍了水分如何通过根、<tspan x="1785" dy="13">茎、叶中的导管在植物体内的运输、以及少部</tspan><tspan x="1785" dy="13">分水被植物体利用和大部分水通过蒸腾作用散</tspan><tspan x="1785" dy="13">失掉的情况</tspan></text></g>
<g id="b4n16" class="c4"><rect x="1624" y="2696" width="210" height="35" rx="4"/><text x="1629" y="2711">3、本节的最后教材联系生产和生活实际，简<tspan x="1629" dy="13">要讲述了合理灌溉的原理和应用。</tspan></text></g>

<!-- Related -->
<g id="rel" class="pill"><rect x="1440" y="2950" width="227" height="28" rx="14" fill="#8A45E8"/><text x="1553.5" y="2968.5" fill="#fff">高中生物教研教学设计相关文章:</text></g>
<g id="rel1" class="c6"><rect x="1681" y="2754" width="141" height="22" rx="4"/><text x="1688" y="2769">★ 关于高中生物范例教学设计</text></g>
<g id="rel2" class="c6"><rect x="1681" y="2798" width="100" height="22" rx="4"/><text x="1688" y="2813">★ 初中生物教学设计</text></g>
<g id="rel3" class="c6"><rect x="1681" y="2843" width="171" height="22" rx="4"/><text x="1688" y="2858">★ 关于高中生物理论课教学设计案例</text></g>
<g id="rel4" class="c6"><rect x="1681" y="2887" width="174" height="22" rx="4"/><text x="1688" y="2902">★ 2021关于高中生物教学设计怎样写</text></g>
<g id="rel5" class="c6"><rect x="1681" y="2931" width="181" height="22" rx="4"/><text x="1688" y="2946">★ 关于优秀高二生物课程教学设计方案</text></g>
<g id="rel6" class="c6"><rect x="1681" y="2976" width="150" height="22" rx="4"/><text x="1688" y="2991">★ 关于高一生物理论课教学设计</text></g>
<g id="rel7" class="c6"><rect x="1681" y="3020" width="157" height="22" rx="4"/><text x="1688" y="3035">★ 关于北师大版生物教学设计5篇</text></g>
<g id="rel8" class="c6"><rect x="1681" y="3064" width="116" height="22" rx="4"/><text x="1688" y="3079">★ 高二下期生物教案5篇</text></g>
<g id="rel9" class="c6"><rect x="1681" y="3108" width="141" height="22" rx="4"/><text x="1688" y="3123">★ 高二优秀生物教案设计范文</text></g>
<g id="rel10" class="c6"><rect x="1681" y="3153" width="136" height="22" rx="4"/><text x="1688" y="3168">★ 高二下册生物讲课教案5篇</text></g>

<!-- Branch 5 -->
<g id="b5" class="pill"><rect x="1020" y="3008" width="168" height="28" rx="14" fill="#2F7FE9"/><text x="1104" y="3026.5" fill="#fff">高中生物教研教学设计5</text></g>
<g id="b5n1" class="c5"><rect x="796" y="2615" width="205" height="22" rx="4"/><text x="801" y="2630">导入：基因突变导致生物变异的原因是什么?</text></g>
<g id="b5n2" class="c5"><rect x="792" y="2659" width="209" height="61" rx="4"/><text x="797" y="2674">基因能够发生突变，那么染色体能不能发生变<tspan x="797" dy="13">化呢?如果染色体发生变化，它会发生什么样</tspan><tspan x="797" dy="13">的变化呢?生物的性状又会发生什么样的变化</tspan><tspan x="797" dy="13">呢?</tspan></text></g>
<g id="b5n3" class="c5"><rect x="891" y="2930" width="110" height="22" rx="4"/><text x="896" y="2945">一、染色体结构的变异</text></g>
<g id="b5n4" class="c5"><rect x="700" y="2743" width="175" height="22" rx="4"/><text x="705" y="2758">1.出示投影片:猫叫综合征幼儿照片。</text></g>
<g id="b5n5" class="c5"><rect x="666" y="2787" width="209" height="35" rx="4"/><text x="671" y="2802">2.让学生观察:患儿的征状---两眼较低、耳位<tspan x="671" dy="13">低下，存在着严重的智力障碍。</tspan></text></g>
<g id="b5n6" class="c5"><rect x="436" y="2787" width="210" height="35" rx="4"/><text x="441" y="2802">教师补充说:患儿哭声轻、音调高，很像猫叫<tspan x="441" dy="13">。</tspan></text></g>
<g id="b5n7" class="c5"><rect x="672" y="2914" width="203" height="22" rx="4"/><text x="677" y="2929">3.投影片放映:病因---染色体缺失图，包括:</text></g>
<g id="b5n8" class="c5"><rect x="444" y="2908" width="209" height="35" rx="4"/><text x="449" y="2923">在自然条件或人为因素的影响下，染色体发生<tspan x="449" dy="13">的结构变异主要有4种:</tspan></text></g>
<g id="b5n9" class="c5"><rect x="310" y="2846" width="113" height="22" rx="4"/><text x="315" y="2861">①染色体缺失某一片断;</text></g>
<g id="b5n10" class="c5"><rect x="310" y="2889" width="113" height="22" rx="4"/><text x="315" y="2904">②染色体增加某一片断;</text></g>
<g id="b5n11" class="c5"><rect x="268" y="2933" width="155" height="22" rx="4"/><text x="273" y="2948">③染色体某一片断位置颠倒1800;</text></g>
<g id="b5n12" class="c5"><rect x="213" y="2977" width="210" height="35" rx="4"/><text x="218" y="2992">④染色体的某一片断移接到另一条非同源染色<tspan x="218" dy="13">体上。</tspan></text></g>
<g id="b5n13" class="c5"><rect x="666" y="3041" width="209" height="35" rx="4"/><text x="671" y="3056">4.讲述:猫叫综合征的病因是病儿第5号染色体<tspan x="671" dy="13">部分缺失，这属于染色体结构变异。</tspan></text></g>
<g id="b5n14" class="c5"><rect x="436" y="3035" width="210" height="48" rx="4"/><text x="441" y="3050">投影片上的其他几种情况也属于染色体结构变<tspan x="441" dy="13">异，请同学们仔细观察染色体的变化情况。[</tspan><tspan x="441" dy="13">来源:学#科#网]</tspan></text></g>
<g id="b5n15" class="c5"><rect x="666" y="3111" width="209" height="35" rx="4"/><text x="671" y="3126">5.染色体结构变异，为何能导致生物性状的变<tspan x="671" dy="13">异呢?</tspan></text></g>
<g id="b5n16" class="c5"><rect x="436" y="3105" width="210" height="48" rx="4"/><text x="441" y="3120">教师引导学生从染色体结构的变化会引起染色<tspan x="441" dy="13">体上的基因数目和排列顺序的改变等方面来加</tspan><tspan x="441" dy="13">以思考。</tspan></text></g>
<g id="b5n17" class="c5"><rect x="901" y="3411" width="100" height="22" rx="4"/><text x="906" y="3426">二、染色体数目变异</text></g>
<g id="b5n18" class="c5"><rect x="676" y="3175" width="209" height="61" rx="4"/><text x="681" y="3190">1.我们已经知道染色体结构变异会导致生物性<tspan x="681" dy="13">状的变异，那么染色体数目发生改变会不会引</tspan><tspan x="681" dy="13">起生物的变异呢?(回答:会)染色体数目会如何</tspan><tspan x="681" dy="13">改变呢?(回答:可增加，也可减少)。</tspan></text></g>
<g id="b5n19" class="c5"><rect x="676" y="3354" width="209" height="35" rx="4"/><text x="681" y="3369">2.前面所说的仅是染色体"个别数目"的增加或<tspan x="681" dy="13">减少，它只是染色体数目变异的一种类型。</tspan></text></g>
<g id="b5n20" class="c5"><rect x="447" y="3258" width="209" height="61" rx="4"/><text x="452" y="3273">例如，人类有一种叫"21-三体综合征"的遗传<tspan x="452" dy="13">病，患者比正常人多一条染色体---21号染色</tspan><tspan x="452" dy="13">体是三条，其征状表现为智力低下，身体发育</tspan><tspan x="452" dy="13">缓慢等;</tspan></text></g>
<g id="b5n21" class="c5"><rect x="447" y="3340" width="209" height="61" rx="4"/><text x="452" y="3355">再如，人类的另一种遗传病叫"性腺发育不良(<tspan x="452" dy="13">Turner综合征)"，患者少了一条X染色体，外</tspan><tspan x="452" dy="13">观表现为女性，但性腺发育不良，没有生育能</tspan><tspan x="452" dy="13">力。</tspan></text></g>
<g id="b5n22" class="c5"><rect x="447" y="3424" width="209" height="61" rx="4"/><text x="452" y="3439">染色体数目变异的另一种类型是染色体数目以<tspan x="452" dy="13">"染色体组"为单位成倍增加或减少，这种类型</tspan><tspan x="452" dy="13">的变异在实践中的应用更为普遍。因此，我们</tspan><tspan x="452" dy="13">重点介绍后一种类型的染色体数目变异。</tspan></text></g>
<g id="b5n23" class="c5"><rect x="719" y="3628" width="166" height="22" rx="4"/><text x="724" y="3643">3.首先我们要了解什么是"染色体组"</text></g>
<g id="b5n24" class="c5"><rect x="578" y="3507" width="121" height="22" rx="4"/><text x="583" y="3522">放映动物精子形成过程图</text></g>
<g id="b5n25" class="c5"><rect x="568" y="3552" width="131" height="22" rx="4"/><text x="573" y="3567">组织学生观察、归纳、总结:</text></g>
<g id="b5n26" class="c5"><rect x="490" y="3596" width="209" height="48" rx="4"/><text x="495" y="3611">(1)在减数分裂过程中，染色体复制一次细胞<tspan x="495" dy="13">分裂二次，结果生殖细胞中的染色体数减少了</tspan><tspan x="495" dy="13">一半。</tspan></text></g>
<g id="b5n27" class="c5"><rect x="490" y="3666" width="209" height="48" rx="4"/><text x="495" y="3681">(2)精原细胞和体细胞中的染色体是成对存在<tspan x="495" dy="13">的，精子中因同源染色体的分离而使染色体成</tspan><tspan x="495" dy="13">单存在。[来源:学.科.网]</tspan></text></g>
<g id="b5n28" class="c5"><rect x="490" y="3737" width="209" height="48" rx="4"/><text x="495" y="3752">(3)由于同源染色体的分离，使得生殖细胞中<tspan x="495" dy="13">所含染色体成为大小、形状各不相同的非同源</tspan><tspan x="495" dy="13">染色体。</tspan></text></g>
<g id="b5n29" class="c5"><rect x="308" y="3749" width="162" height="22" rx="4"/><text x="313" y="3764">出示:雄果蝇染色体的活动投影片。</text></g>
</svg>
